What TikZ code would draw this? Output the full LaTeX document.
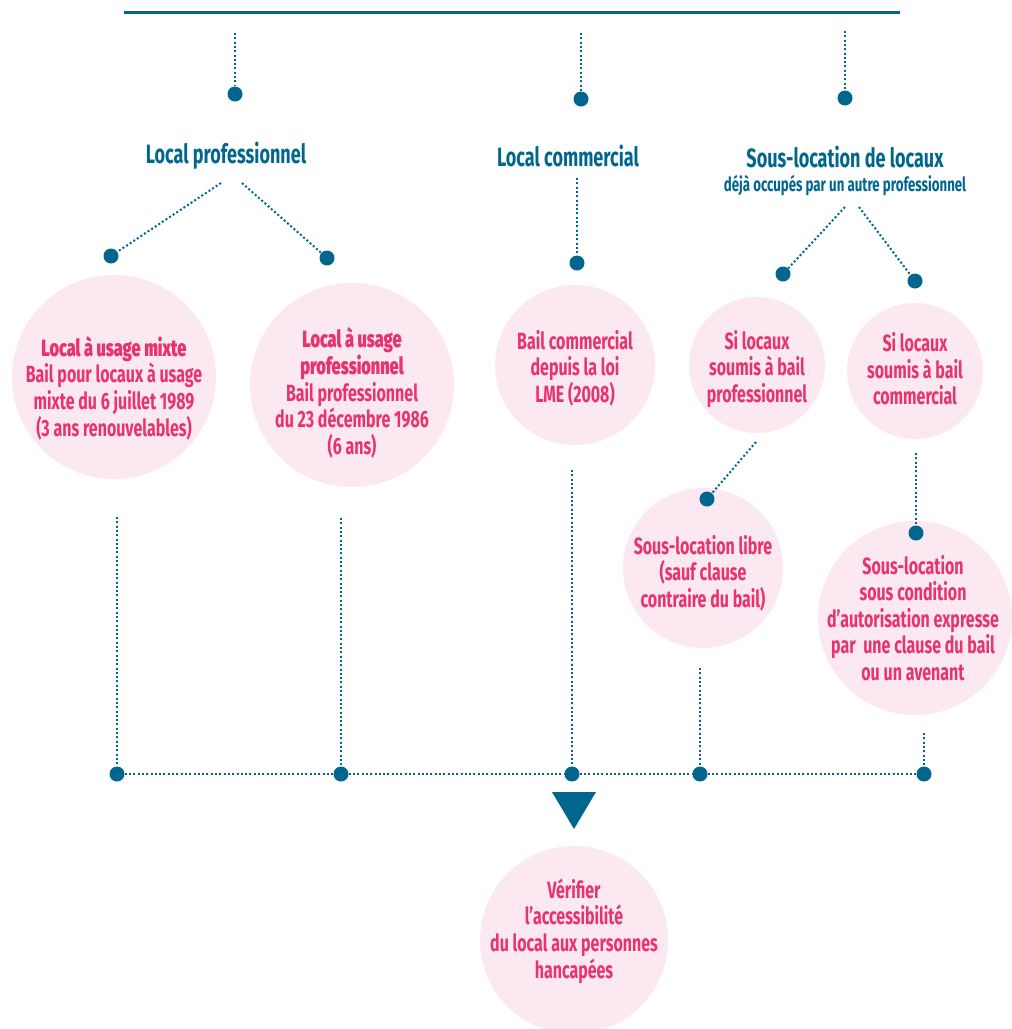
\documentclass[tikz,border=0pt]{standalone}
\usepackage{fontspec}
\setmainfont{Fira Sans}[FakeStretch=0.68]
\newfontfamily\heavy{Fira Sans ExtraBold}[FakeStretch=0.695]
\definecolor{bleu}{HTML}{00668E}
\definecolor{rose}{HTML}{E8336F}
\definecolor{rosefond}{HTML}{FCE8F0}
\tikzset{
  pt/.style={circle, fill=bleu, inner sep=0pt, minimum size=15pt},
  dotline/.style={draw=bleu, line width=2pt, dash pattern=on 2pt off 2.3pt},
  bulle/.style={circle, fill=rosefond, inner sep=0pt},
  txt/.style={text=rose, font=\fontsize{23.5}{26.6}\selectfont\bfseries, align=center, inner sep=0pt},
  titre/.style={text=bleu, font=\fontsize{26.5}{30}\selectfont\bfseries, inner sep=0pt},
  soustitre/.style={text=bleu, font=\fontsize{19.5}{22}\selectfont\bfseries, inner sep=0pt}
}
\begin{document}
\begin{tikzpicture}[x=1pt,y=-1pt]
\useasboundingbox (0,0) rectangle (1012,1029);
\clip (0,0) rectangle (1012,1029);
% top rule
\coordinate (r1) at (124,12);
\coordinate (r2) at (900,12);
\draw[bleu, line width=3pt] (r1) -- (r2);
% circles
\node[bulle, minimum size=204pt] (c1) at (114,377) {};
\node[bulle, minimum size=204pt] (c2) at (352,385) {};
\node[bulle, minimum size=160pt] (c3) at (575,365) {};
\node[bulle, minimum size=136pt] (c4) at (757,365) {};
\node[bulle, minimum size=136pt] (c5) at (915,371) {};
\node[bulle, minimum size=160pt] (c6) at (703,568) {};
\node[bulle, minimum size=194pt] (c7) at (915,618) {};
\node[bulle, minimum size=188pt] (c8) at (574,940) {};
% texts in circles
\node[txt] (t1) at (114,388) {{\heavy Local à usage mixte}\\ Bail pour locaux à usage\\ mixte du 6 juillet 1989\\ (3 ans renouvelables)};
\node[txt] (t2) at (352,393) {{\heavy Local à usage}\\ {\heavy professionnel}\\ Bail professionnel\\ du 23 décembre 1986\\ (6 ans)};
\node[txt] (t3) at (575,368) {Bail commercial\\ depuis la loi\\ LME (2008)};
\node[txt] (t4) at (757,369) {Si locaux\\ soumis à bail\\ professionnel};
\node[txt] (t5) at (915,369) {Si locaux\\ soumis à bail\\ commercial};
\node[txt] (t6) at (703,573) {Sous-location libre\\ (sauf clause\\ contraire du bail)};
\node[txt] (t7) at (913,618) {Sous-location\\ sous condition\\ d’autorisation expresse\\ par\ \ une clause du bail\\ ou un avenant};
\node[txt] (t8) at (574,931) {Vérifier\\ l’accessibilité\\ du local aux personnes\\ hancapées};
% titles
\node[titre] (T1) at (226,156) {Local professionnel};
\node[titre] (T2) at (568,156) {Local commercial};
\node[titre] (T3) at (845,157) {Sous-location de locaux};
\node[soustitre] (T3b) at (845,186) {déjà occupés par un autre professionnel};
% dots
\node[pt] (d1) at (235,94) {};
\node[pt] (d2) at (581,99) {};
\node[pt] (d3) at (845,98) {};
\node[pt] (d4) at (111,256) {};
\node[pt] (d5) at (327,258) {};
\node[pt] (d6) at (577,263) {};
\node[pt] (d7) at (783,274) {};
\node[pt] (d8) at (915,281) {};
\node[pt] (d9) at (707,499) {};
\node[pt] (d10) at (916,533) {};
\node[pt] (b1) at (117,774) {};
\node[pt] (b2) at (341,774) {};
\node[pt] (b3) at (572,774) {};
\node[pt] (b4) at (700,774) {};
\node[pt] (b5) at (924,774) {};
% free ends
\coordinate (s1) at (235,33);
\coordinate (s2) at (581,33);
\coordinate (s3) at (845,31);
\coordinate (s4) at (221,183);
\coordinate (s5) at (242,183);
\coordinate (s6) at (577,178);
\coordinate (s7) at (845,207);
\coordinate (s8) at (859,207);
\coordinate (s9) at (756,442);
\coordinate (s10) at (916,453);
\coordinate (u1) at (117,517);
\coordinate (u2) at (341,518);
\coordinate (u3) at (572,470);
\coordinate (u4) at (700,668);
\coordinate (u5) at (924,733);
% connectors
\draw[dotline] (s1) -- (d1);
\draw[dotline] (s2) -- (d2);
\draw[dotline] (s3) -- (d3);
\draw[dotline] (s4) -- (d4);
\draw[dotline] (s5) -- (d5);
\draw[dotline] (s6) -- (d6);
\draw[dotline] (s7) -- (d7);
\draw[dotline] (s8) -- (d8);
\draw[dotline] (s9) -- (d9);
\draw[dotline] (s10) -- (d10);
\draw[dotline] (u1) -- (b1);
\draw[dotline] (u2) -- (b2);
\draw[dotline] (u3) -- (b3);
\draw[dotline] (u4) -- (b4);
\draw[dotline] (u5) -- (b5);
\draw[dotline] (b1) -- (b2);
\draw[dotline] (b2) -- (b3);
\draw[dotline] (b3) -- (b4);
\draw[dotline] (b4) -- (b5);
% triangle
\fill[bleu] (552,792) -- (596,792) -- (574,829) -- cycle;
\end{tikzpicture}
\end{document}
